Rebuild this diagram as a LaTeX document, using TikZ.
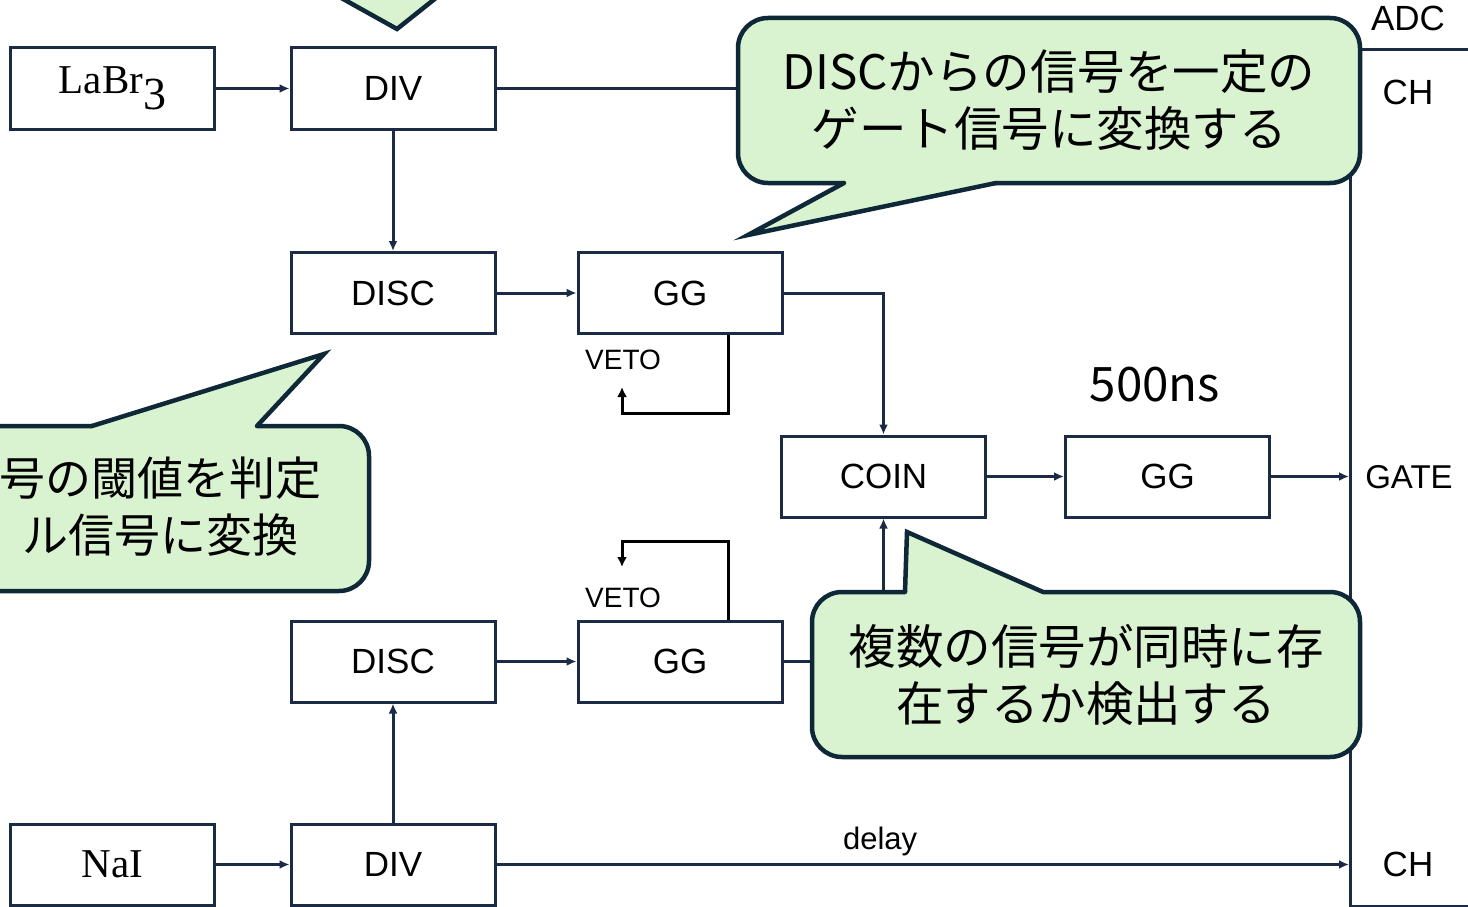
\documentclass[tikz,border=0pt]{standalone}
\usepackage{fontspec}
\newfontfamily\arialf{Liberation Sans}
\newfontfamily\seriff{Liberation Serif}
\newfontfamily\cjkf{Noto Sans CJK JP}
\usetikzlibrary{arrows.meta,calc}
\definecolor{navy}{HTML}{1C2B45}
\definecolor{cborder}{HTML}{0F2838}
\definecolor{cfill}{HTML}{D9F2D0}
\begin{document}
\begin{tikzpicture}[x=1pt,y=-1pt,
  box/.style={draw=navy, line width=3pt, minimum width=204pt, minimum height=81pt, inner sep=0pt, font=\arialf\fontsize{35}{42}\selectfont},
  serifbox/.style={box, font=\seriff\fontsize{41}{46}\selectfont},
  conn/.style={draw=navy, line width=3pt, -{Latex[length=10pt,width=9pt]}},
  veto/.style={draw=black, line width=3pt, -{Latex[length=10pt,width=10pt]}},
  lbl/.style={font=\arialf\fontsize{35}{42}\selectfont, inner sep=0pt},
  vlbl/.style={font=\arialf\fontsize{28}{34}\selectfont, inner sep=0pt, anchor=west},
  jtext/.style={font=\cjkf\fontsize{47.5}{57}\selectfont, inner sep=0pt},
  cbody/.style={draw=cborder, fill=cfill, line width=4.5pt, rounded corners=30pt, inner sep=0pt, align=center, font=\cjkf\fontsize{47.5}{57}\selectfont},
  cline/.style={draw=cborder, line width=4.5pt, line join=miter, line cap=round},
]
\useasboundingbox (0,0) rectangle (1468,907);
\clip (0,0) rectangle (1468,907);

% boxes
\node[serifbox] (labr) at (112.5,88.5) {LaBr\raisebox{-16pt}{\fontsize{46}{46}\selectfont 3}};
\node[box] (div1) at (393,88.5) {DIV};
\node[box] (disc1) at (393,293) {DISC};
\node[box] (gg1) at (680,293) {GG};
\node[box] (coin) at (883.5,476.5) {COIN};
\node[box] (gg2) at (1167.5,476.5) {GG};
\node[box] (disc2) at (393,661.5) {DISC};
\node[box] (gg3) at (680,661.5) {GG};
\node[serifbox] (nai) at (112.5,864.5) {NaI};
\node[box] (div2) at (393,864.5) {DIV};

% ADC
\node[draw=navy, line width=3pt, minimum width=300pt, minimum height=857pt, anchor=north west, inner sep=0pt] (adc) at (1349,48) {};
\node[lbl] (adcl) at (1408,18) {ADC};
\node[lbl] (ch1) at (1408,92) {CH};
\node[lbl, font=\arialf\fontsize{33}{40}\selectfont] (gate) at (1409,477) {GATE};
\node[lbl] (ch2) at (1408,864) {CH};

% connectors
\draw[conn] (labr) -- (div1);
\draw[conn] (div1) -- (div1 -| adc.west);
\draw[conn] (div1) -- (disc1);
\draw[conn] (disc1) -- (gg1);
\draw[conn] (gg1.east) -| (coin.north);
\draw[conn] (disc2) -- (gg3);
\draw[conn] (gg3.east) -| (coin.south);
\draw[conn] (coin) -- (gg2);
\draw[conn] (gg2) -- (gg2 -| adc.west);
\draw[conn] (nai) -- (div2);
\draw[conn] (div2) -- (disc2);
\draw[conn] (div2) -- (div2 -| adc.west) node[pos=0.45, above=7pt, font=\arialf\fontsize{31}{36}\selectfont, inner sep=0pt] (delay) {delay};

% veto loops
\coordinate (v1s) at ($(gg1.south)+(48,0)$);
\coordinate (v1e) at (622,387);
\draw[veto] (v1s) -- ++(0,78) -| (v1e);
\coordinate (v2s) at ($(gg3.north)+(48,0)$);
\coordinate (v2e) at (622,567);
\draw[veto] (v2s) -- ++(0,-78) -| (v2e);
\node[vlbl] (veto1) at (585,360) {VETO};
\node[vlbl] (veto2) at (585,598) {VETO};

\node[jtext] (t500) at (1155,385) {500ns};

% top callout tail (body outside the picture)
\fill[cfill] (327,-10) -- (397,29) -- (446,-10) -- cycle;
\draw[cline] (327,-10) -- (397,29) -- (446,-10);

% callout: GG
\node[cbody, minimum width=622pt, minimum height=165pt] (call1) at (1049,100.5) {DISCからの信号を一定の\\ゲート信号に変換する};
\fill[cfill] (844,176) -- (844,183) -- (748,235) -- (996,183) -- (996,176) -- cycle;
\draw[cline] (844,183) -- (748,235) -- (996,183);

% callout: DISC (left, cut)
\node[cbody, minimum width=519pt, minimum height=165pt] (call2) at (109.5,508.5) {};
\fill[cfill] (92,434) -- (92,426) -- (324,354) -- (257,426) -- (257,434) -- cycle;
\draw[cline] (92,426) -- (324,354) -- (257,426);
\node[jtext, font=\cjkf\fontsize{46}{57}\selectfont, anchor=east] (lt1) at (322,478) {号の閾値を判定};
\node[jtext, font=\cjkf\fontsize{46}{57}\selectfont, anchor=east] (lt2) at (299,535) {ル信号に変換};

% callout: COIN
\node[cbody, minimum width=548pt, minimum height=165pt] (call3) at (1086,674.5) {複数の信号が同時に存\\在するか検出する};
\fill[cfill] (905,600) -- (905,592) -- (907,532) -- (1043,592) -- (1043,600) -- cycle;
\draw[cline] (905,592) -- (907,532) -- (1043,592);
\end{tikzpicture}
\end{document}
